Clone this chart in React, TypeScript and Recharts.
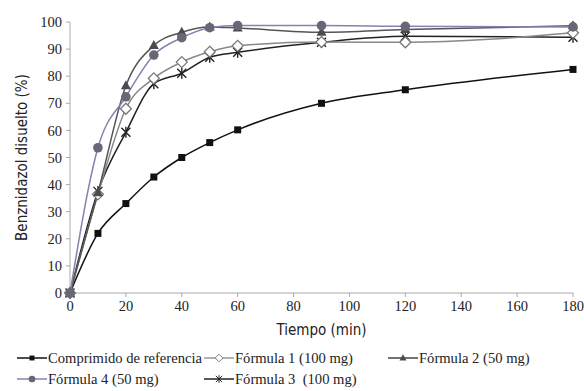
import { LineChart, Line, XAxis, YAxis, Label } from "recharts"

// Tiempo (min)
const tiempo = [0, 10, 20, 30, 40, 50, 60, 90, 120, 180]

// % disuelto de cada formulación
const referencia = [0, 22, 33, 42.8, 50, 55.5, 60.2, 70, 75, 82.5]
const formula1 = [0, 36.4, 68, 79.2, 85.2, 89, 91.2, 92.6, 92.5, 96]
const formula2 = [0, 37, 76.5, 91.3, 96.2, 98.2, 97.8, 96.2, 97.2, 98.6]
const formula4 = [0, 53.6, 72.4, 87.8, 94.2, 97.9, 98.7, 98.7, 98.4, 98.2]
const formula3 = [0, 37.5, 59.3, 77.2, 81.1, 87, 88.8, 92.5, 94.7, 94.4]

const xTicks = [0, 20, 40, 60, 80, 100, 120, 140, 160, 180]
const yTicks = [0, 10, 20, 30, 40, 50, 60, 70, 80, 90, 100]

const data = tiempo.map((t, i) => ({
  t,
  ref: referencia[i],
  f1: formula1[i],
  f2: formula2[i],
  f4: formula4[i],
  f3: formula3[i],
}))

const serif = "'Liberation Serif', 'Times New Roman', serif"
const narrow = "'Liberation Sans Narrow', 'DejaVu Sans Condensed', 'Liberation Sans', sans-serif"

const SquareDot = (props: any) => {
  const { cx, cy } = props
  if (cx == null || cy == null) return null
  return <rect x={cx - 3.5} y={cy - 3.5} width={7} height={7} fill="#111" />
}

const DiamondDot = (props: any) => {
  const { cx, cy } = props
  if (cx == null || cy == null) return null
  return (
    <path
      d={`M${cx},${cy - 5.5} L${cx + 5.5},${cy} L${cx},${cy + 5.5} L${cx - 5.5},${cy} Z`}
      fill="#fff"
      stroke="#777"
      strokeWidth={1.3}
    />
  )
}

const TriangleDot = (props: any) => {
  const { cx, cy } = props
  if (cx == null || cy == null) return null
  return <path d={`M${cx},${cy - 5.5} L${cx + 5},${cy + 3.5} L${cx - 5},${cy + 3.5} Z`} fill="#4a4a55" />
}

const CircleDot = (props: any) => {
  const { cx, cy } = props
  if (cx == null || cy == null) return null
  return <circle cx={cx} cy={cy} r={4.8} fill="#676775" />
}

const StarDot = (props: any) => {
  const { cx, cy } = props
  if (cx == null || cy == null) return null
  const s = 4.5
  return (
    <g stroke="#222" strokeWidth={1.4}>
      <line x1={cx - s} y1={cy - s} x2={cx + s} y2={cy + s} />
      <line x1={cx - s} y1={cy + s} x2={cx + s} y2={cy - s} />
      <line x1={cx} y1={cy - s - 1} x2={cx} y2={cy + s + 1} />
    </g>
  )
}

const legendItems = [
  { name: "Comprimido de referencia", color: "#111", Dot: SquareDot, x: 17, y: 358 },
  { name: "Fórmula 1 (100 mg)", color: "#999", Dot: DiamondDot, x: 204, y: 358 },
  { name: "Fórmula 2 (50 mg)", color: "#444", Dot: TriangleDot, x: 388, y: 358 },
  { name: "Fórmula 4 (50 mg)", color: "#8a7fb0", Dot: CircleDot, x: 17, y: 379 },
  { name: "Fórmula 3  (100 mg)", color: "#222", Dot: StarDot, x: 204, y: 379 },
]

function LegendIcon({ color, Dot }: any) {
  return (
    <svg width={30} height={12} style={{ display: "block", overflow: "visible" }}>
      <line x1={0} y1={6} x2={30} y2={6} stroke={color} strokeWidth={1.5} />
      <g transform="translate(15,6) scale(0.7) translate(-15,-6)">
        <Dot cx={15} cy={6} />
      </g>
    </svg>
  )
}

export default function App() {
  return (
    <div style={{ position: "absolute", left: 0, top: 0, width: 584, height: 391, background: "#fff" }}>
      <LineChart
        width={584}
        height={391}
        data={data}
        margin={{ top: 22, right: 11, left: 0, bottom: 68 }}
      >
        <XAxis
          dataKey="t"
          type="number"
          domain={[0, 180]}
          ticks={xTicks}
          interval={0}
          height={30}
          axisLine={{ stroke: "#aaa" }}
          tickLine={{ stroke: "#aaa" }}
          tickSize={4}
          tickMargin={4}
          tick={{ fill: "#222", fontFamily: serif, fontSize: 14.5 }}
        >
          <Label
            value="Tiempo (min)"
            position="bottom"
            offset={1}
            style={{ fill: "#222", fontFamily: narrow, fontSize: 15 }}
          />
        </XAxis>
        <YAxis
          type="number"
          domain={[0, 100]}
          ticks={yTicks}
          interval={0}
          width={70}
          axisLine={{ stroke: "#aaa" }}
          tickLine={{ stroke: "#aaa" }}
          tickSize={4}
          tickMargin={4}
          tick={{ fill: "#222", fontFamily: serif, fontSize: 14.5 }}
        >
          <Label
            value="Benznidazol disuelto (%)"
            angle={-90}
            position="insideLeft"
            offset={22}
            style={{ fill: "#222", fontFamily: narrow, fontSize: 15, textAnchor: "middle" }}
          />
        </YAxis>
        <Line type="monotone" dataKey="ref" stroke="#111" strokeWidth={1.5} dot={<SquareDot />} isAnimationActive={false} />
        <Line type="monotone" dataKey="f3" stroke="#222" strokeWidth={1.5} dot={<StarDot />} isAnimationActive={false} />
        <Line type="monotone" dataKey="f1" stroke="#888" strokeWidth={1.5} dot={<DiamondDot />} isAnimationActive={false} />
        <Line type="monotone" dataKey="f2" stroke="#555" strokeWidth={1.5} dot={<TriangleDot />} isAnimationActive={false} />
        <Line type="monotone" dataKey="f4" stroke="#8a7fb0" strokeWidth={1.5} dot={<CircleDot />} isAnimationActive={false} />
      </LineChart>
      {legendItems.map((it) => (
        <div
          key={it.name}
          style={{
            position: "absolute",
            left: it.x,
            top: it.y - 9,
            height: 18,
            display: "flex",
            alignItems: "center",
            fontFamily: serif,
            fontSize: 14.6,
            color: "#222",
            whiteSpace: "pre",
          }}
        >
          <LegendIcon color={it.color} Dot={it.Dot} />
          <span style={{ marginLeft: 1 }}>{it.name}</span>
        </div>
      ))}
    </div>
  )
}
